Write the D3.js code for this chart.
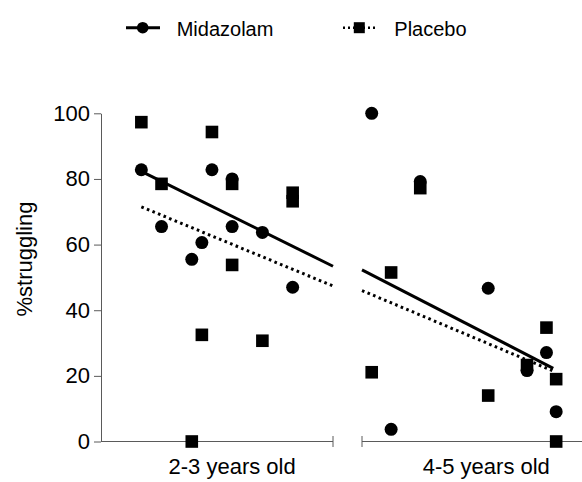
<!DOCTYPE html>
<html>
<head>
<meta charset="utf-8">
<script src="https://cdn.jsdelivr.net/npm/d3@7"></script>
<style>
  body { margin: 0; background: #fff; }
  text { font-family: Arial, "Liberation Sans", sans-serif; fill: #000; }
</style>
</head>
<body>
<svg width="582" height="482"></svg>
<script>
// age in months, % struggling
var groups = ['2-3 years old', '4-5 years old'];
var yTicks = [0, 20, 40, 60, 80, 100];

var midazolam = [
  [28, 82.8], [30, 65.5], [33, 55.5], [34, 60.6], [35, 82.8], [37, 80.0],
  [37, 65.5], [40, 63.7], [43, 47.0],
  [49, 100], [51, 3.7], [54, 79.2], [61, 46.7], [65, 21.6], [67, 27.1], [68, 9.1]
];
var placebo = [
  [28, 97.3], [30, 78.5], [33, 0], [34, 32.5], [35, 94.3], [37, 78.5],
  [37, 53.8], [40, 30.7], [43, 75.8], [43, 73.2],
  [49, 21.1], [51, 51.5], [54, 77.2], [61, 14.0], [65, 23.3], [67, 34.7], [68, 19.0], [68, 0]
];

// regression line ends
var midFit = [[[28, 82.3], [47, 53.4]], [[48, 52.3], [67.7, 22.3]]];
var plaFit = [[[28, 71.5], [47, 47.4]], [[48, 46.0], [67.6, 21.6]]];

var svg = d3.select('svg');
var axisCol = '#5a5a5a';

var y = d3.scaleLinear().domain([0, 100]).range([441.5, 113.3]);
var xL = d3.scaleLinear().domain([24, 47]).range([101, 333]),
    xR = d3.scaleLinear().domain([48, 72]).range([362, 595]);
function x(v) { return v < 47.5 ? xL(v) : xR(v); }

// y axis
var yAx = svg.append('g')
  .attr('transform', 'translate(101,0)')
  .call(d3.axisLeft(y).tickValues(yTicks).tickSize(7).tickSizeOuter(0).tickPadding(4));
yAx.select('.domain').attr('stroke', axisCol);
yAx.selectAll('.tick line').attr('stroke', axisCol);
yAx.selectAll('.tick text').style('font-size', '22px').attr('fill', '#000');

// broken x axis
[xL, xR].forEach(function(s, i) {
  var r = s.range();
  svg.append('line')
    .attr('x1', r[0]).attr('x2', r[1])
    .attr('y1', y(0)).attr('y2', y(0))
    .attr('stroke', axisCol).attr('stroke-width', 1);
  var bx = i == 0 ? r[1] : r[0];
  svg.append('line')
    .attr('x1', bx).attr('x2', bx)
    .attr('y1', y(0) - 5.5).attr('y2', y(0) + 5.5)
    .attr('stroke', axisCol).attr('stroke-width', 1);
});

svg.selectAll('.glabel')
  .data(groups)
  .enter()
  .append('text')
  .attr('x', function(d, i) { return i == 0 ? xL(37) : xR(60.8); })
  .attr('y', 473.5)
  .attr('text-anchor', 'middle')
  .style('font-size', '22px')
  .text(function(d) { return d; });

svg.append('text')
  .attr('transform', 'translate(32,259) rotate(-90)')
  .attr('text-anchor', 'middle')
  .style('font-size', '22px')
  .text('%struggling');

// fit lines
var line = d3.line().x(function(d) { return x(d[0]); }).y(function(d) { return y(d[1]); });
svg.selectAll('.midfit')
  .data(midFit)
  .enter()
  .append('path')
  .attr('d', line)
  .attr('fill', 'none')
  .attr('stroke', '#000')
  .attr('stroke-width', 3);
svg.selectAll('.plafit')
  .data(plaFit)
  .enter()
  .append('path')
  .attr('d', line)
  .attr('fill', 'none')
  .attr('stroke', '#000')
  .attr('stroke-width', 3)
  .attr('stroke-dasharray', '2.6,3.4');

// points
svg.selectAll('.sq')
  .data(placebo)
  .enter()
  .append('rect')
  .attr('x', function(d) { return x(d[0]) - 6.3; })
  .attr('y', function(d) { return y(d[1]) - 6.3; })
  .attr('width', 12.6)
  .attr('height', 12.6)
  .attr('fill', '#000');
svg.selectAll('.ci')
  .data(midazolam)
  .enter()
  .append('circle')
  .attr('cx', function(d) { return x(d[0]); })
  .attr('cy', function(d) { return y(d[1]); })
  .attr('r', 6.5)
  .attr('fill', '#000');

// legend
var lg = svg.append('g');
lg.append('line').attr('x1', 126).attr('x2', 160).attr('y1', 27.7).attr('y2', 27.7)
  .attr('stroke', '#000').attr('stroke-width', 3);
lg.append('circle').attr('cx', 142.7).attr('cy', 27.7).attr('r', 5.8).attr('fill', '#000');
lg.append('text').attr('x', 176.7).attr('y', 35.5).style('font-size', '20px').text('Midazolam');

lg.append('line').attr('x1', 343).attr('x2', 376).attr('y1', 27.7).attr('y2', 27.7)
  .attr('stroke', '#000').attr('stroke-width', 2.5).attr('stroke-dasharray', '2,3');
lg.append('rect').attr('x', 353.8).attr('y', 22.2).attr('width', 11).attr('height', 11).attr('fill', '#000');
lg.append('text').attr('x', 394.3).attr('y', 35.5).style('font-size', '20px').text('Placebo');
</script>
</body>
</html>
